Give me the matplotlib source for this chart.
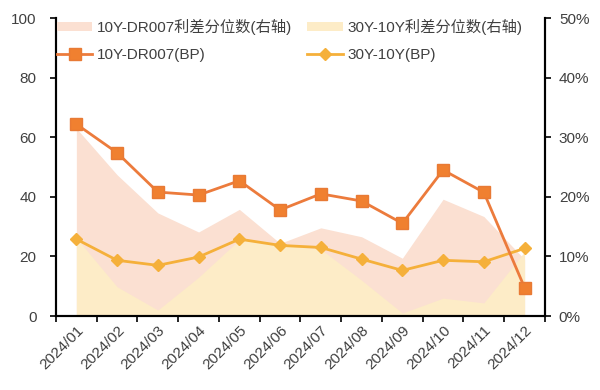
import matplotlib
matplotlib.use("Agg")
import matplotlib.pyplot as plt
from matplotlib.ticker import FuncFormatter, FixedLocator
from matplotlib.patches import Patch
from matplotlib.lines import Line2D

plt.rcParams['font.family'] = ['Liberation Sans', 'Noto Sans CJK SC', 'DejaVu Sans']

months = ["2024/01", "2024/02", "2024/03", "2024/04", "2024/05", "2024/06",
          "2024/07", "2024/08", "2024/09", "2024/10", "2024/11", "2024/12"]
dr007_bp = [64.4, 54.8, 41.6, 40.6, 45.4, 35.6, 41.0, 38.6, 31.1, 49.0, 41.5, 9.5]
y30_10_bp = [25.8, 18.7, 17.0, 19.8, 25.8, 23.7, 23.0, 19.1, 15.3, 18.7, 18.2, 22.7]
dr007_pct = [31.5, 23.7, 17.3, 14.1, 17.9, 12.2, 14.8, 13.3, 9.7, 19.6, 16.7, 9.5]
y30_10_pct = [13.1, 4.9, 1.0, 6.5, 12.8, 11.9, 11.2, 6.0, 0.5, 3.0, 2.2, 10.8]

c_dr = '#EC7B3C'
c_30 = '#F5B03A'
c_fill_dr = '#FBE0D2'
c_fill_30 = '#FDECC7'
txt = '#404040'

fig = plt.figure(figsize=(6, 3.9), dpi=100)
ax1 = fig.add_axes([0.0933, 0.1897, 0.815, 0.764])
ax2 = ax1.twinx()
ax1.set_zorder(ax2.get_zorder() + 1)
ax1.patch.set_visible(False)

x = list(range(len(months)))
ax2.fill_between(x, 0, dr007_pct, color=c_fill_dr, lw=0, zorder=1)
ax2.fill_between(x, 0, y30_10_pct, color=c_fill_30, lw=0, zorder=2)

ax1.plot(x, dr007_bp, color=c_dr, lw=2, marker='s', ms=8.5, mfc='#F08030', mec='#E87A35', zorder=4)
ax1.plot(x, y30_10_bp, color=c_30, lw=2, marker='D', ms=6.5, mfc=c_30, mec=c_30, zorder=3)

ax1.set_xlim(-0.5, len(months) - 0.5)
ax1.set_ylim(0, 100)
ax2.set_ylim(0, 50)
ax1.set_yticks([0, 20, 40, 60, 80, 100])
ax2.set_yticks([0, 10, 20, 30, 40, 50])
ax2.yaxis.set_major_formatter(FuncFormatter(lambda v, p: f"{int(v)}%"))

ax1.set_xticks(x)
ax1.set_xticklabels(months, rotation=45, ha='right', rotation_mode='anchor', fontsize=11, color=txt)
ax1.tick_params(axis='x', which='major', length=0, pad=5)
ax1.xaxis.set_minor_locator(FixedLocator([i - 0.5 for i in range(len(months) + 1)]))
ax1.tick_params(axis='x', which='minor', length=4, width=1.2, direction='out', color='black')
ax1.tick_params(axis='y', length=4, width=1.2, labelsize=11, labelcolor=txt, pad=10)
ax2.tick_params(axis='y', length=4, width=1.2, labelsize=11, labelcolor=txt, pad=6)

for ax in (ax1, ax2):
    ax.spines['top'].set_visible(False)
    for s in ('left', 'right', 'bottom'):
        ax.spines[s].set_linewidth(1.5)
        ax.spines[s].set_color('black')

handles = [
    Patch(facecolor=c_fill_dr, edgecolor='none'),
    Line2D([], [], color=c_dr, lw=2, marker='s', ms=8.5, mfc='#F08030', mec='#E87A35'),
    Patch(facecolor=c_fill_30, edgecolor='none'),
    Line2D([], [], color=c_30, lw=2, marker='D', ms=6.5, mfc=c_30, mec=c_30),
]
labels = ["10Y-DR007利差分位数(右轴)", "10Y-DR007(BP)", "30Y-10Y利差分位数(右轴)", "30Y-10Y(BP)"]
leg = fig.legend(handles, labels, ncol=2, loc='upper left', bbox_to_anchor=(0.085, 0.967),
                 frameon=False, fontsize=11, handlelength=2.3, handleheight=0.5,
                 handletextpad=0.3, columnspacing=1.0, labelspacing=0.85, borderaxespad=0)
for t in leg.get_texts():
    t.set_color(txt)

fig.savefig('out.png', dpi=100)
